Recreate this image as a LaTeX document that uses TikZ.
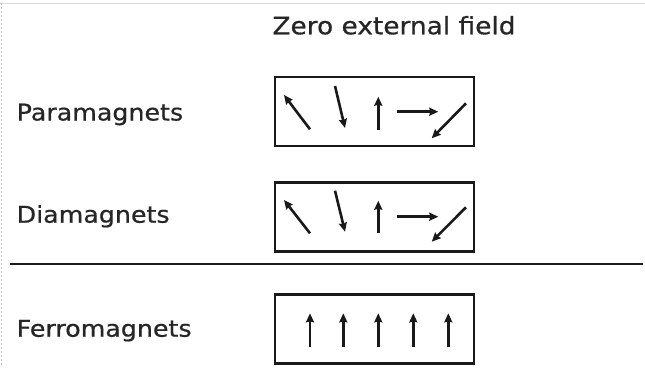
\documentclass[tikz,border=0pt]{standalone}
\usepackage{fontspec}
\setmainfont{DejaVu Sans}[FakeStretch=1.1,FakeBold=0.6]
\usetikzlibrary{arrows.meta}
\begin{document}
\begin{tikzpicture}[x=1pt,y=-1pt,
  lbl/.style={anchor=base west,font=\fontsize{23}{26}\selectfont,text=black!85,inner sep=0pt},
  panel/.style={draw=black!90,line width=2.8pt,minimum width=199pt,minimum height=69pt,inner sep=0pt},
  spin/.style={line width=2.6pt,black!90,-{Stealth[length=9pt,width=8pt,inset=1pt]}}]
\useasboundingbox (0,0) rectangle (645,367);
\fill[white] (0,0) rectangle (645,367);
\draw[black!15,line width=1pt] (0,3) -- (645,3);
\draw[black!25,line width=1pt,dash pattern=on 2pt off 2pt] (1.5,3) -- (1.5,367);
\node[anchor=base,font=\fontsize{24}{27}\selectfont,text=black!85,inner sep=0pt] (title) at (394,34.3) {Zero external field};
\node[lbl] (para) at (16.5,120.5) {Paramagnets};
\node[lbl] (dia) at (16.5,222.7) {Diamagnets};
\node[lbl] (ferro) at (16.5,336.7) {Ferromagnets};
\node[panel] (pbox) at (374.5,111.5) {};
\node[panel] (dbox) at (374.5,217) {};
\node[panel] (fbox) at (374.5,329) {};
\draw[black!90,line width=2.4pt] (10,264) -- (643,264);
% paramagnets
\draw[spin] (310,129.3) -- (284,95);
\draw[spin] (335,86) -- (345,128);
\draw[spin] (378.3,130) -- (378.3,96.7);
\draw[spin] (396.7,111.7) -- (438.3,111.7);
\draw[spin] (466,103.3) -- (431.7,138.3);
% diamagnets
\draw[spin] (310,233.3) -- (284,200);
\draw[spin] (335,190.7) -- (345,231.7);
\draw[spin] (378.3,233.3) -- (378.3,200.7);
\draw[spin] (396.7,216.7) -- (438.3,216.7);
\draw[spin] (466,207.3) -- (431.7,241.7);
% ferromagnets
\foreach \xx in {310,343.3,378.3,413.3,448.3}
  \draw[spin] (\xx,346.7) -- (\xx,313.3);
\end{tikzpicture}
\end{document}
